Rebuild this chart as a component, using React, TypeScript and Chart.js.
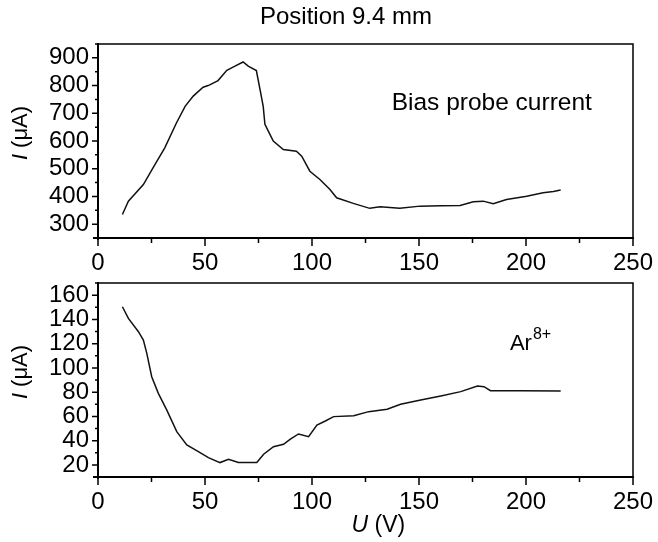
import React, { useEffect, useRef } from "react";
import { Chart, registerables } from "chart.js";

Chart.register(...registerables);

// ---- Data ----
const biasU = [11.4, 14.2, 21.2, 25.7, 31.2, 36.7, 40.7, 44.5, 49.1, 51.5, 56.1, 60.2, 64, 67.8, 70.2, 74, 75.7, 77.2, 78, 80.4, 81.9, 86.6, 92.7, 95.2, 99, 103.7, 108.4, 111.5, 119.3, 127, 131.8, 141, 150.5, 160, 169.2, 175.4, 180, 184.7, 190.9, 200.3, 208, 212.8, 216.2];
const biasI = [335, 383, 443, 503, 575, 666, 725, 762, 794, 800, 818, 855, 870, 885, 870, 854, 786, 725, 660, 623, 600, 569, 563, 545, 491, 461, 425, 395, 375, 357, 363, 357, 365, 366, 367, 381, 383, 374, 389, 401, 413, 418, 423];

const arU = [11.4, 14.2, 18.9, 21.2, 22.8, 25.1, 28.2, 32.1, 36.8, 41.5, 46.9, 51.6, 57, 61, 65.6, 74.2, 77.4, 82, 86.7, 89.9, 93.7, 98.4, 102.3, 106, 110.1, 119.5, 126.5, 135.1, 141.4, 150.8, 160.2, 169.5, 177.3, 180.4, 183.4, 197.5, 216.2];
const arI = [150.4, 140.8, 129.8, 122.9, 112, 92.7, 79, 65.3, 47.4, 36.5, 31, 26, 21.9, 24.6, 21.9, 21.9, 28.8, 35, 37, 41.2, 45.5, 43.3, 52.9, 56, 59.8, 60.6, 63.9, 65.9, 70, 73.5, 76.8, 80.4, 85, 84.5, 81.2, 81.2, 81];

const xTicks = [0, 50, 100, 150, 200, 250];
const topYTicks = [300, 400, 500, 600, 700, 800, 900];
const bottomYTicks = [20, 40, 60, 80, 100, 120, 140, 160];

const titleText = "Position 9.4 mm";
const topLabel = "Bias probe current";
const yTitleItalic = "I";
const yTitleRest = " (μA)";
const xTitleItalic = "U";
const xTitleRest = " (V)";

const FONT = "'Liberation Sans', Arial, sans-serif";

type PanelOpts = {
  u: number[];
  i: number[];
  yMin: number;
  yMax: number;
  yTicks: number[];
  yMinorStep: number;
  padTop: number;
  xAxisHeight: number;
  drawExtra: (chart: any) => void;
};

function drawMixed(ctx: CanvasRenderingContext2D, italic: string, rest: string, size: number, cx: number, cy: number) {
  ctx.font = `italic ${size}px ${FONT}`;
  const w1 = ctx.measureText(italic).width;
  ctx.font = `${size}px ${FONT}`;
  const w2 = ctx.measureText(rest).width;
  const start = cx - (w1 + w2) / 2;
  ctx.textAlign = "left";
  ctx.textBaseline = "middle";
  ctx.font = `italic ${size}px ${FONT}`;
  ctx.fillText(italic, start, cy);
  ctx.font = `${size}px ${FONT}`;
  ctx.fillText(rest, start + w1, cy);
}

function makeChart(canvas: HTMLCanvasElement, o: PanelOpts) {
  const framePlugin = {
    id: "frame",
    afterDraw(chart: any) {
      const { ctx, chartArea } = chart;
      const { left, right, top, bottom } = chartArea;
      const x = chart.scales.x;
      const y = chart.scales.y;
      ctx.save();
      ctx.strokeStyle = "#000";
      ctx.fillStyle = "#000";
      ctx.lineWidth = 1.5;
      ctx.beginPath();
      ctx.moveTo(left, top);
      ctx.lineTo(right, top);
      ctx.lineTo(right, bottom);
      ctx.stroke();
      ctx.lineWidth = 2;
      ctx.beginPath();
      ctx.moveTo(left - 5, bottom);
      ctx.lineTo(right + 1, bottom);
      ctx.moveTo(left, top - 1);
      ctx.lineTo(left, bottom + 2);
      ctx.stroke();
      // x ticks
      ctx.lineWidth = 1.5;
      ctx.beginPath();
      for (let v = 0; v <= 250; v += 25) {
        const px = x.getPixelForValue(v);
        const len = v % 50 === 0 ? 8 : 5;
        ctx.moveTo(px, bottom);
        ctx.lineTo(px, bottom + len);
      }
      // y ticks
      for (let v = o.yMin; v <= o.yMax + 1e-6; v += o.yMinorStep) {
        const py = y.getPixelForValue(v);
        const major = o.yTicks.includes(v);
        const len = major ? 6 : 3;
        ctx.moveTo(left, py);
        ctx.lineTo(left - len, py);
      }
      ctx.stroke();
      // y title
      ctx.save();
      ctx.translate(21, (top + bottom) / 2 - 8);
      ctx.rotate(-Math.PI / 2);
      drawMixed(ctx, yTitleItalic, yTitleRest, 22, 0, 0);
      ctx.restore();
      o.drawExtra(chart);
      ctx.restore();
    },
  };

  return new Chart(canvas, {
    type: "line",
    data: {
      datasets: [
        {
          data: o.u.map((u, k) => ({ x: u, y: o.i[k] })),
          borderColor: "#111",
          borderWidth: 1.5,
          pointRadius: 0,
          tension: 0,
          fill: false,
        },
      ],
    },
    options: {
      animation: false,
      responsive: false,
      devicePixelRatio: 1,
      layout: { padding: { top: o.padTop, right: 25, left: 0, bottom: 0 } },
      plugins: { legend: { display: false }, tooltip: { enabled: false }, title: { display: false } },
      scales: {
        x: {
          type: "linear",
          min: 0,
          max: 250,
          grid: { display: false, drawTicks: false },
          border: { display: false },
          afterBuildTicks: (s: any) => {
            s.ticks = xTicks.map((v) => ({ value: v }));
          },
          afterFit: (s: any) => {
            s.height = o.xAxisHeight;
            s.paddingLeft = 0;
            s.paddingRight = 0;
          },
          ticks: {
            color: "#000",
            padding: 11,
            maxRotation: 0,
            autoSkip: false,
            font: { family: FONT, size: 24 },
          },
        },
        y: {
          type: "linear",
          min: o.yMin,
          max: o.yMax,
          grid: { display: false, drawTicks: false },
          border: { display: false },
          afterBuildTicks: (s: any) => {
            s.ticks = o.yTicks.map((v) => ({ value: v }));
          },
          afterFit: (s: any) => {
            s.width = 98;
            s.paddingTop = 0;
            s.paddingBottom = 0;
          },
          ticks: {
            color: "#000",
            padding: 9,
            autoSkip: false,
            font: { family: FONT, size: 24 },
          },
        },
      },
    },
    plugins: [framePlugin],
  } as any);
}

export default function App() {
  const topRef = useRef<HTMLCanvasElement>(null);
  const botRef = useRef<HTMLCanvasElement>(null);

  useEffect(() => {
    const c1 = makeChart(topRef.current!, {
      u: biasU,
      i: biasI,
      yMin: 250,
      yMax: 950,
      yTicks: topYTicks,
      yMinorStep: 50,
      padTop: 44,
      xAxisHeight: 32,
      drawExtra: (chart: any) => {
        const { ctx } = chart;
        const x = chart.scales.x;
        const y = chart.scales.y;
        ctx.fillStyle = "#000";
        ctx.font = `24px ${FONT}`;
        ctx.textAlign = "center";
        ctx.textBaseline = "middle";
        ctx.fillText(titleText, 346, 17);
        ctx.font = `24.5px ${FONT}`;
        ctx.fillText(topLabel, x.getPixelForValue(184), y.getPixelForValue(737));
      },
    });
    const c2 = makeChart(botRef.current!, {
      u: arU,
      i: arI,
      yMin: 10,
      yMax: 170,
      yTicks: bottomYTicks,
      yMinorStep: 10,
      padTop: 13,
      xAxisHeight: 65,
      drawExtra: (chart: any) => {
        const { ctx } = chart;
        const x = chart.scales.x;
        const y = chart.scales.y;
        ctx.fillStyle = "#000";
        ctx.textAlign = "left";
        ctx.textBaseline = "middle";
        const ax = x.getPixelForValue(192.5);
        const ay = y.getPixelForValue(120);
        ctx.font = `22px ${FONT}`;
        ctx.fillText("Ar", ax, ay);
        const w = ctx.measureText("Ar").width;
        ctx.font = `16px ${FONT}`;
        ctx.fillText("8+", ax + w + 1, ay - 9);
        drawMixed(ctx, xTitleItalic, xTitleRest, 23, x.getPixelForValue(131), 256);
      },
    });
    return () => {
      c1.destroy();
      c2.destroy();
    };
  }, []);

  return (
    <div style={{ position: "fixed", left: 0, top: 0, width: 658, height: 542, background: "#fff" }}>
      <canvas ref={topRef} width={658} height={270} style={{ position: "absolute", left: 0, top: 0, display: "block" }} />
      <canvas ref={botRef} width={658} height={272} style={{ position: "absolute", left: 0, top: 270, display: "block" }} />
    </div>
  );
}
